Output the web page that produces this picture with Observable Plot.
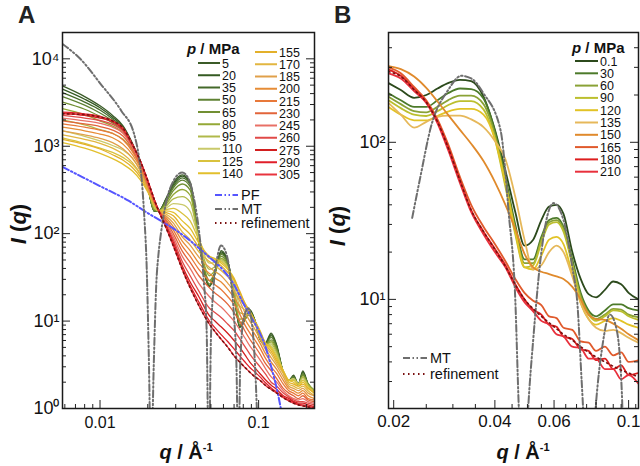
<!DOCTYPE html>
<html><head><meta charset="utf-8">
<script src="https://cdn.jsdelivr.net/npm/d3@7"></script>
<script src="https://cdn.jsdelivr.net/npm/@observablehq/plot@0.6"></script>
<style>
body{margin:0;background:#fff;font-family:"Liberation Sans",Arial,sans-serif}
#wrap{position:relative;width:640px;height:466px;overflow:hidden}
#wrap > svg{position:absolute;top:0}
</style></head><body><div id="wrap"></div>
<script>
// ---------------- Panel A data ----------------
const qA = [0.0058,0.008,0.010,0.012,0.014,0.016,0.018,0.020,0.022,0.0235,0.026,0.029,0.033,0.037,0.042,0.049,0.053,0.058,0.064,0.070,0.076,0.082,0.088,0.095,0.102,0.110,0.120,0.130,0.143,0.155,0.166,0.178,0.190,0.205,0.225];
const pA = [5,20,35,50,65,80,95,110,125,140,155,170,185,200,215,230,245,260,275,290,305];
const A005 = [4900,3700,2900,2250,1700,1080,650,340,180,182,250,380,470,390,80,25,36,64,48,20,8.5,10.5,13.5,10,6.2,5.6,7.3,5.3,2.6,2.1,2.4,1.9,2.7,1.9,1.6];
const A020 = [4500,3450,2750,2150,1650,1060,645,340,180,182,245,365,455,380,80,25,35,62,47,20,8.5,10.5,13.2,10,6.2,5.5,7.0,5.2,2.6,2.1,2.3,1.9,2.6,1.9,1.6];
const A035 = [4100,3200,2600,2050,1600,1040,635,338,180,182,240,350,435,365,80,25.5,35,60,46,20,8.7,10.5,12.8,10,6.2,5.5,6.8,5.0,2.6,2.1,2.3,1.9,2.5,1.9,1.6];
const A050 = [3700,2950,2400,1950,1550,1020,625,338,182,182,235,335,410,345,80,26.5,35,58,45,20,9,10.5,12.5,9.8,6.2,5.4,6.5,4.9,2.6,2.1,2.3,1.9,2.5,1.9,1.6];
const A065 = [3200,2650,2200,1850,1500,1000,615,338,185,182,225,310,370,315,80,29,36,55,43,20,9.5,10.5,12,9.6,6.3,5.3,6.1,4.7,2.6,2.1,2.2,1.9,2.4,1.9,1.6];
const A080 = [2700,2300,1950,1700,1420,980,605,340,190,182,215,280,320,275,82,33,38,52,41,21,10.5,11,11.8,9.5,6.5,5.3,5.8,4.5,2.6,2.1,2.2,1.9,2.3,1.9,1.6];
const A095 = [2000,1750,1550,1400,1200,900,585,340,198,182,205,250,265,230,85,39,42,50,40,23,12.5,12,11.8,9.5,6.8,5.3,5.5,4.3,2.6,2.1,2.2,1.9,2.3,1.8,1.6];
const A110 = [1500,1300,1150,1020,900,730,520,330,205,182,195,220,215,180,88,46,47,49,40,26,15,13.5,12,9.6,7.2,5.4,5.2,4.1,2.7,2.1,2.2,1.9,2.2,1.8,1.5];
const A125 = [1250,1080,950,850,740,620,470,320,212,182,188,195,170,140,85,52,51,48,40,29,18,15,12.5,9.8,7.6,5.6,5.0,3.9,2.7,2.1,2.1,1.9,2.1,1.8,1.5];
const A140 = [1100,950,830,720,620,520,410,300,212,182,182,175,140,115,78,55,52,46,39,31,21,16,13,10,7.8,5.7,4.8,3.7,2.7,2.1,2.0,1.8,2.0,1.7,1.5];
const A155 = [1200,1050,930,800,690,570,440,310,215,182,175,160,120,98,70,54,49,43,36,30,22,16,12.5,9.8,7.5,5.5,4.5,3.5,2.6,2.0,1.9,1.8,1.9,1.7,1.5];
const A170 = [1350,1200,1080,950,810,650,480,322,218,182,168,145,105,85,62,48,43,38,32,26,20,14.5,11.5,9,7,5.2,4.2,3.3,2.5,1.9,1.8,1.7,1.8,1.6,1.4];
const A185 = [1500,1350,1230,1100,930,730,520,335,222,182,160,132,92,74,54,41,37,33,27,22,17,12.5,10,8,6.3,4.8,3.8,3.1,2.3,1.8,1.7,1.6,1.7,1.5,1.4];
const A200 = [1650,1500,1380,1250,1050,800,560,350,226,182,153,120,82,64,46,35,31,28,23,18.5,14.5,10.5,8.5,7,5.6,4.3,3.4,2.8,2.1,1.7,1.6,1.5,1.6,1.4,1.3];
const A215 = [1800,1650,1530,1400,1180,870,590,362,230,182,146,110,72,55,39,29,26,23,19,15.5,12,9,7.3,6,4.9,3.8,3.0,2.5,1.9,1.6,1.5,1.4,1.5,1.3,1.25];
const A230 = [1950,1800,1680,1530,1300,930,620,372,234,182,140,100,63,47,33,24,21,18.5,15.5,12.5,10,7.7,6.2,5.1,4.2,3.3,2.7,2.2,1.7,1.5,1.4,1.3,1.4,1.25,1.2];
const A245 = [2100,1950,1830,1650,1400,980,640,382,238,182,134,92,55,40,27,19,16.5,14.5,12,10,8,6.4,5.2,4.3,3.6,2.9,2.3,2.0,1.6,1.4,1.3,1.25,1.3,1.2,1.15];
const A260 = [2250,2100,1970,1780,1480,1020,660,392,241,182,128,85,48,33,22,14,12.5,11,9.2,7.8,6.3,5.1,4.2,3.5,3.0,2.5,2.0,1.8,1.5,1.35,1.25,1.2,1.2,1.15,1.1];
const A275 = [2400,2250,2100,1900,1550,1040,670,398,243,181,124,79,43,28,19,11.5,10,8.6,7.2,6.0,5.0,4.1,3.4,2.9,2.5,2.15,1.85,1.65,1.4,1.3,1.2,1.15,1.15,1.1,1.05];
const A290 = [2450,2350,2200,1950,1600,1050,675,402,245,180,121,75,40,25.5,16.5,10,8.4,7.0,5.8,4.8,4.0,3.4,2.95,2.6,2.3,1.98,1.72,1.54,1.35,1.25,1.18,1.12,1.1,1.06,1.02];
const A305 = [2350,2300,2150,1950,1600,1050,670,405,245,180,118,72,39,24,15,9.2,7.6,6.2,5.0,4.0,3.4,2.95,2.6,2.3,2.1,1.85,1.65,1.5,1.33,1.22,1.15,1.1,1.07,1.04,1.0];
const colA = ["#3b5b28","#345a22","#44692a","#5f8233","#718f33","#94a836","#b0b94a","#c9c96a","#d9c23e","#e2bf2c","#e3b02a","#e2b640","#e0a04a","#e68c36","#e8793a","#e2643a","#e87066","#e04a48","#d21f1f","#e01f2a","#e8343e"];
// PF, MT and refinement (panel A)
const qPF = [0.0058,0.010,0.015,0.020,0.025,0.030,0.035,0.043,0.050,0.060,0.070,0.080,0.090,0.100,0.110,0.120,0.130,0.138,0.146];
const IPF = [580,350,240,172,135,110,90,66,52,38,26,16,11,7.8,5.2,3.0,1.7,1.0,0.55];
const qMTA = [0.0058,0.0075,0.0101,0.0136,0.0164,0.0175,0.0183,0.0190,0.0197,0.0203,0.0210,0.0218,0.0226,0.0234,0.0242,0.026,0.029,0.033,0.036,0.039,0.042,0.045,0.047,0.0485,0.050,0.052,0.055,0.058,0.062,0.066,0.070,0.0725,0.0745,0.0765,0.080,0.086,0.091,0.095,0.0985,0.101];
const IMTA = [14800,10000,5150,2550,1380,800,420,160,40,4,0.2,3,25,60,100,220,400,500,430,260,110,30,8,0.2,6,25,55,73,62,35,11,3,0.2,3,10,14,9,3,0.6,0.2];
const rfA = [2350,2300,2150,1950,1600,1050,670,405,245,180,118,72,39,24,15,9.2,7.6,6.2,5.0,4.0,3.4,2.95,2.6,2.3,2.1,1.85,1.65,1.5,1.33,1.22,1.15,1.1,1.07,1.04,1.0];

// ---------------- Panel B data ----------------
const qB = [0.0193,0.021,0.023,0.025,0.027,0.029,0.0315,0.034,0.037,0.040,0.043,0.046,0.049,0.052,0.055,0.058,0.061,0.064,0.068,0.072,0.076,0.080,0.085,0.090,0.095,0.100,0.107];
const pB = ["0.1","30","60","90","120","135","150","165","180","210"];
const B001 = [238,215,192,200,220,238,250,245,195,120,66,36,22,24,32,39,40,35,20,13.5,10.8,10.3,11.5,13,12.5,11,10];
const B030 = [205,185,168,168,185,205,220,218,190,118,60,30,18,18,25,32,33,29,18,11,8.5,7.8,8.5,9.3,9.3,8.8,8.5];
const B060 = [195,175,158,155,168,185,198,198,175,112,56,28,17,17,24,31,32,28,17,10.5,8.2,7.5,8,8.7,8.6,8.0,7.7];
const B090 = [185,165,150,147,158,172,183,183,162,105,52,26,16,16.5,23,30,31,27,16.5,10,8,7.3,7.8,8.5,8.4,7.8,7.4];
const B120 = [168,150,138,138,147,157,163,163,150,105,55,27,16,15.5,19,24,25,22.5,14.5,9.5,7.5,6.9,7.3,7.6,7.3,6.9,6.6];
const B135 = [178,150,124,135,145,148,148,140,125,102,78,45,24,15.5,16.5,20,22,20,14,9.5,7.5,6.6,6.3,6.4,6.1,5.7,5.3];
const B150 = [305,292,262,222,182,150,120,98,76,56,40,28,19.5,16,15,14.5,14,13.5,12,10,8,7.5,7.4,7,6.5,6,5.5];
const B165 = [300,275,225,185,140,98,60,40,29,22.5,17.5,13.5,11,9.8,9.2,7.8,7.6,6.6,6.4,5.4,5.3,4.7,5.0,4.4,4.6,4.0,4.1];
const B180 = [290,265,218,180,135,94,57,37,27,21,16.5,12.5,10,8.6,8.0,6.9,6.7,5.8,5.6,4.8,4.7,4.1,4.2,3.6,3.8,3.3,3.4];
const B210 = [275,255,212,178,132,90,55,36,26,20,16,12,9.6,8.4,7.3,6.9,6.0,5.8,5.0,4.9,4.2,4.2,3.6,3.6,3.1,3.3,2.9];
const colB = ["#2c4a1c","#4c7a2a","#8aa236","#bcbf2e","#e2c326","#e6b85a","#e08a2c","#e05a2c","#dd1e1e","#e8303c"];
const qMTB = [0.0227,0.024,0.0258,0.029,0.0318,0.034,0.037,0.0416,0.044,0.046,0.0471,0.0487,0.0503,0.052,0.055,0.0598,0.064,0.068,0.0705,0.0725,0.0765,0.080,0.0835,0.088,0.092,0.0955,0.097];
const IMTB = [33,60,125,214,265,255,205,119,35,10,2.1,0.5,2.1,5.5,20,41,32,16,9,3,0.5,2.2,5,8,6.5,2.5,0.5];
const rfB = [282,262,216,180,135,93,57,37,27,20.8,16.2,12.4,10,8.7,7.8,7.1,6.5,6.0,5.5,5.0,4.6,4.3,4.0,3.75,3.55,3.4,3.2];

// tick labels
const yTickA = [1,10,100,1000,10000], yLabA = ["10\u2070","10\u00b9","10\u00b2","10\u00b3","10\u2074"];
const xTickA = [0.01,0.1], xLabA = ["0.01","0.1"];
const yTickB = [10,100], yLabB = ["10\u00b9","10\u00b2"];
const xTickB = [0.02,0.04,0.06,0.1], xLabB = ["0.02","0.04","0.06","0.1"];

// ---------------- build ----------------
const seriesA = [A005,A020,A035,A050,A065,A080,A095,A110,A125,A140,A155,A170,A185,A200,A215,A230,A245,A260,A275,A290,A305];
const seriesB = [B001,B030,B060,B090,B120,B135,B150,B165,B180,B210];
const rowsA = pA.flatMap((p,k)=>qA.map((q,i)=>({p, q, I: seriesA[k][i]})));
const rowsB = pB.flatMap((p,k)=>qB.map((q,i)=>({p, q, I: seriesB[k][i]})));
const pf = qPF.map((q,i)=>({q, I: IPF[i]}));
const mtA = qMTA.map((q,i)=>({q, I: IMTA[i]}));
const refA = qA.map((q,i)=>({q, I: rfA[i]}));
const mtB = qMTB.map((q,i)=>({q, I: IMTB[i]}));
const refB = qB.map((q,i)=>({q, I: rfB[i]}));

function logTicks(lo, hi){const out=[];for(let e=Math.floor(Math.log10(lo));e<=Math.ceil(Math.log10(hi));e++)for(let m=1;m<10;m++){const v=m*Math.pow(10,e);if(v>=lo*0.999&&v<=hi*1.001)out.push({v,major:m===1});}return out;}
const FONT = "'Liberation Sans', Arial, sans-serif";
const MTDASH = "7,2.5,1.5,2.5,1.5,2.5";

function tickMarks(FW, FH, yT, xT){
  return [
    Plot.tickY(yT.filter(d=>!d.major), {y:"v", insetRight: FW-4, stroke:"#222"}),
    Plot.tickY(yT.filter(d=>d.major), {y:"v", insetRight: FW-8, stroke:"#222"}),
    Plot.tickY(yT.filter(d=>!d.major), {y:"v", insetLeft: FW-4, stroke:"#222"}),
    Plot.tickY(yT.filter(d=>d.major), {y:"v", insetLeft: FW-8, stroke:"#222"}),
    Plot.tickX(xT.filter(d=>!d.major), {x:"v", insetTop: FH-4, stroke:"#222"}),
    Plot.tickX(xT.filter(d=>d.major), {x:"v", insetTop: FH-8, stroke:"#222"})
  ];
}

const FH = 376;
const plotA = Plot.plot({
  width: 320, height: 466, marginLeft: 62, marginRight: 6, marginTop: 32, marginBottom: 58,
  x: {type:"log", domain:[0.0058, 0.225], axis:null},
  y: {type:"log", domain:[1, 20000], axis:null},
  color: {type:"ordinal", domain: pA, range: colA},
  style: {background:"transparent", fontFamily: FONT, overflow:"visible"},
  marks: [
    Plot.line(rowsA, {x:"q", y:"I", z:"p", stroke:"p", strokeWidth:1.3, curve:"monotone-x", clip:true}),
    Plot.line(pf, {x:"q", y:"I", stroke:"#5555ff", strokeWidth:2, strokeDasharray:MTDASH, curve:"monotone-x", clip:true}),
    Plot.line(mtA, {x:"q", y:"I", stroke:"#6e6e6e", strokeWidth:2, strokeDasharray:MTDASH, curve:"monotone-x", clip:true}),
    Plot.line(refA, {x:"q", y:"I", stroke:"#7a1010", strokeWidth:1.6, strokeDasharray:"1.5,3.5", curve:"monotone-x", clip:true}),
    ...tickMarks(252, FH, logTicks(1,20000), logTicks(0.0058,0.225)),
    Plot.frame({stroke:"#1a1a1a", strokeWidth:1.5}),
    Plot.text(yTickA, {y:d=>d, text:(d,i)=>yLabA[i], frameAnchor:"left", textAnchor:"end", dx:-3, fontSize:18, fill:"#111"}),
    Plot.text(xTickA, {x:d=>d, text:(d,i)=>xLabA[i], frameAnchor:"bottom", dy:19, fontSize:16, fill:"#111"})
  ]
});

const xMinorB = []; for (let k=0;k<=17;k++){const v=+(0.02+0.005*k).toFixed(3); xMinorB.push({v, major: xTickB.includes(v) || v===0.08});}
const plotB = Plot.plot({
  width: 320, height: 466, marginLeft: 68, marginRight: 2, marginTop: 32, marginBottom: 58,
  x: {type:"log", domain:[0.0193, 0.107], axis:null},
  y: {type:"log", domain:[2.02, 500], axis:null},
  color: {type:"ordinal", domain: pB, range: colB},
  style: {background:"transparent", fontFamily: FONT, overflow:"visible"},
  marks: [
    Plot.line(rowsB, {x:"q", y:"I", z:"p", stroke:"p", strokeWidth:1.8, curve:"monotone-x", clip:true}),
    Plot.line(mtB, {x:"q", y:"I", stroke:"#6e6e6e", strokeWidth:2, strokeDasharray:MTDASH, curve:"monotone-x", clip:true}),
    Plot.line(refB, {x:"q", y:"I", stroke:"#7a1010", strokeWidth:1.6, strokeDasharray:"1.5,3.5", curve:"monotone-x", clip:true}),
    ...tickMarks(250, FH, logTicks(2.02,500), xMinorB),
    Plot.frame({stroke:"#1a1a1a", strokeWidth:1.5}),
    Plot.text(yTickB, {y:d=>d, text:(d,i)=>yLabB[i], frameAnchor:"left", textAnchor:"end", dx:-3, fontSize:18, fill:"#111"}),
    Plot.text(xTickB, {x:d=>d, text:(d,i)=>xLabB[i], frameAnchor:"bottom", dy:18, fontSize:17, fill:"#111"})
  ]
});

const wrap = document.getElementById("wrap");
plotA.style.left = "0px"; plotB.style.left = "320px";
wrap.appendChild(plotA); wrap.appendChild(plotB);

// ---------------- overlay: titles & legends ----------------
const ov = d3.select(wrap).append("svg").attr("width",640).attr("height",466)
  .style("left","0px").style("font-family", FONT);
function styled(sel, parts){ parts.forEach(p=>{const t=sel.append("tspan").text(p.t); if(p.i) t.attr("font-style","italic"); if(p.dy) t.attr("dy",p.dy); if(p.fs) t.attr("font-size",p.fs);}); return sel; }
// panel letters
ov.append("text").attr("x",18).attr("y",23).attr("font-size",24).attr("font-weight","bold").attr("fill","#222").text("A");
ov.append("text").attr("x",334).attr("y",23).attr("font-size",24).attr("font-weight","bold").attr("fill","#222").text("B");
// y titles
[[26,224],[345,226]].forEach(([x,y])=>{
  styled(ov.append("text").attr("transform",`translate(${x},${y}) rotate(-90)`).attr("text-anchor","middle")
    .attr("font-size",22).attr("font-weight","bold").attr("fill","#111"),
    [{t:"I",i:true},{t:" ("},{t:"q",i:true},{t:")"}]);
});
// x titles
[186,523].forEach(x=>{
  styled(ov.append("text").attr("x",x).attr("y",459).attr("text-anchor","middle")
    .attr("font-size",20).attr("font-weight","bold").attr("fill","#111"),
    [{t:"q",i:true},{t:" / Å"},{t:"-1",dy:-8,fs:11}]);
});
// legend A
styled(ov.append("text").attr("x",187).attr("y",54).attr("font-size",15).attr("font-weight","bold").attr("fill","#111"),
  [{t:"p",i:true},{t:" / MPa"}]);
pA.forEach((p,i)=>{
  const col = i<10 ? 0 : 1, r = i<10 ? i : i-10;
  const x0 = col ? 255 : 198, y = col ? 52 + 12.25*r : 63 + 12.25*r;
  ov.append("line").attr("x1",x0).attr("x2",x0+22).attr("y1",y).attr("y2",y).attr("stroke",colA[i]).attr("stroke-width",2);
  ov.append("text").attr("x",x0+24).attr("y",y+4.5).attr("font-size",12.5).attr("fill","#111").text(p);
});
const legA2 = [["PF","#5555ff",MTDASH,195],["MT","#6e6e6e",MTDASH,209],["refinement","#7a1010","1.5,3.5",223]];
legA2.forEach(([t,c,d,y])=>{
  ov.append("line").attr("x1",215).attr("x2",238).attr("y1",y).attr("y2",y).attr("stroke",c).attr("stroke-width",2).attr("stroke-dasharray",d);
  ov.append("text").attr("x",241).attr("y",y+5).attr("font-size",14.5).attr("fill","#111").text(t);
});
// legend B
styled(ov.append("text").attr("x",572).attr("y",53).attr("font-size",15).attr("font-weight","bold").attr("fill","#111"),
  [{t:"p",i:true},{t:" / MPa"}]);
pB.forEach((p,i)=>{
  const y = 61 + 12.3*i;
  ov.append("line").attr("x1",575).attr("x2",598).attr("y1",y).attr("y2",y).attr("stroke",colB[i]).attr("stroke-width",2);
  ov.append("text").attr("x",600).attr("y",y+4.5).attr("font-size",12.5).attr("fill","#111").text(p);
});
const legB2 = [["MT","#6e6e6e",MTDASH,358],["refinement","#7a1010","1.5,3.5",374]];
legB2.forEach(([t,c,d,y])=>{
  ov.append("line").attr("x1",403).attr("x2",427).attr("y1",y).attr("y2",y).attr("stroke",c).attr("stroke-width",2).attr("stroke-dasharray",d);
  ov.append("text").attr("x",430).attr("y",y+5).attr("font-size",14.5).attr("fill","#111").text(t);
});
</script></body></html>
